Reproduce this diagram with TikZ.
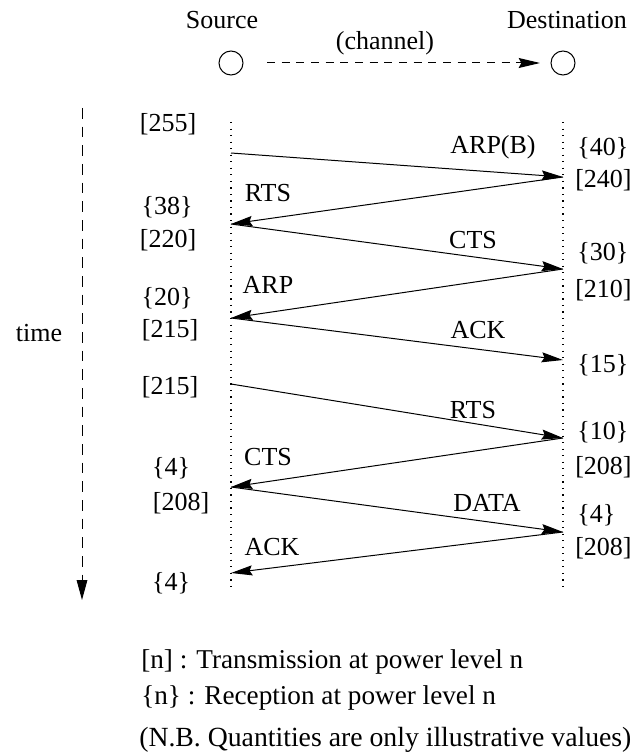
\documentclass[tikz,border=0pt]{standalone}
\usepackage{fontspec}
\setmainfont{Liberation Serif}
\usetikzlibrary{arrows.meta}
\begin{document}
\begin{tikzpicture}[x=0.75pt,y=-0.75pt,
  lbl/.style={inner sep=0pt, font=\fontsize{19.5}{22}\selectfont},
  legend/.style={inner sep=0pt, anchor=west, font=\fontsize{20.4}{24}\selectfont},
  tip/.style={-{Stealth[length=16pt,width=7.5pt,inset=2pt]}},
  msg/.style={line width=0.75pt, tip},
  life/.style={line width=0.9pt, dash pattern=on 0.9pt off 4pt},
  station/.style={draw, circle, minimum size=18pt, inner sep=0pt, line width=0.75pt}]
\useasboundingbox (0,0) rectangle (636,756);
% header
\node[lbl] (srcname) at (222,20) {Source};
\node[lbl] (dstname) at (567,20) {Destination};
\node[lbl] (chan) at (385,43) {(channel)};
\node[station] (src) at (231,63) {};
\node[station] (dst) at (563,63) {};
\coordinate (chs) at (267,63);
\coordinate (che) at (540,63);
\draw[line width=0.75pt, dash pattern=on 6pt off 5pt, tip] (chs) -- (che);
% time axis
\coordinate (t0) at (82,108);
\coordinate (t1) at (82,600);
\draw[line width=0.75pt, dash pattern=on 8pt off 6pt, -{Triangle[length=15pt,width=8pt]}] (t0) -- (t1);
\node[lbl] (time) at (39,333) {time};
% lifelines
\coordinate (stop) at (231,122);
\coordinate (sbot) at (231,590);
\coordinate (dtop) at (563,122);
\coordinate (dbot) at (563,590);
\draw[life] (stop) -- (sbot);
\draw[life] (dtop) -- (dbot);
% message points
\coordinate (a1) at (231,153); \coordinate (b1) at (563,177);
\coordinate (a2) at (231,224); \coordinate (b2) at (563,269);
\coordinate (a3) at (231,318);
\coordinate (a4) at (231,384); \coordinate (b4) at (563,360);
\coordinate (b5) at (563,438);
\coordinate (a5) at (231,487); \coordinate (b6) at (563,532);
\coordinate (a6) at (231,573);
\draw[msg] (a1) -- (b1);
\draw[msg] (b1) -- (a2);
\draw[msg] (a2) -- (b2);
\draw[msg] (b2) -- (a3);
\draw[msg] (a3) -- (b4);
\draw[msg] (a4) -- (b5);
\draw[msg] (b5) -- (a5);
\draw[msg] (a5) -- (b6);
\draw[msg] (b6) -- (a6);
% message labels
\node[lbl] (m1) at (493,147) {ARP(B)};
\node[lbl] (m2) at (268,193) {RTS};
\node[lbl] (m3) at (473,240) {CTS};
\node[lbl] (m4) at (268,285) {ARP};
\node[lbl] (m5) at (478,330) {ACK};
\node[lbl] (m6) at (473,410) {RTS};
\node[lbl] (m7) at (268,457) {CTS};
\node[lbl] (m8) at (487,503) {DATA};
\node[lbl] (m9) at (272,547) {ACK};
% left power levels
\node[lbl] (l1) at (168,124) {[255]};
\node[lbl] (l2) at (167,207) {\{38\}};
\node[lbl] (l3) at (168,240) {[220]};
\node[lbl] (l4) at (167,298) {\{20\}};
\node[lbl] (l5) at (170,330) {[215]};
\node[lbl] (l6) at (170,387) {[215]};
\node[lbl] (l7) at (171,468) {\{4\}};
\node[lbl] (l8) at (181,503) {[208]};
\node[lbl] (l9) at (171,583) {\{4\}};
% right power levels
\node[lbl, anchor=west] (r1) at (577,148) {\{40\}};
\node[lbl, anchor=west] (r2) at (575,180) {[240]};
\node[lbl, anchor=west] (r3) at (577,253) {\{30\}};
\node[lbl, anchor=west] (r4) at (575,290) {[210]};
\node[lbl, anchor=west] (r5) at (577,365) {\{15\}};
\node[lbl, anchor=west] (r6) at (577,432) {\{10\}};
\node[lbl, anchor=west] (r7) at (575,467) {[208]};
\node[lbl, anchor=west] (r8) at (577,515) {\{4\}};
\node[lbl, anchor=west] (r9) at (575,548) {[208]};
% legend
\node[legend] (g1) at (141,662) {[n] : Transmission at power level n};
\node[legend] (g2) at (141,698) {\{n\} : Reception at power level n};
\node[legend, font=\fontsize{20.8}{24}\selectfont] (g3) at (139,740) {(N.B. Quantities are only illustrative values)};
\end{tikzpicture}
\end{document}
